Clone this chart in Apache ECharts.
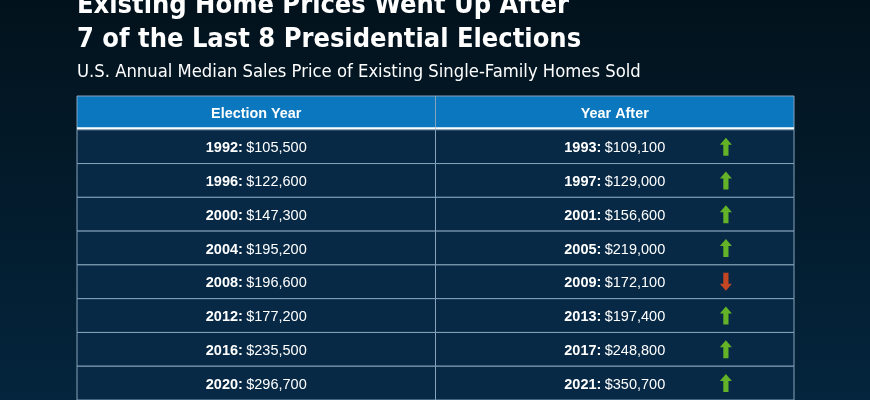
<!DOCTYPE html>
<html>
<head>
<meta charset="utf-8">
<script src="https://cdn.jsdelivr.net/npm/echarts@6/dist/echarts.min.js"></script>
<style>
    html, body { margin: 0; padding: 0; background: #031826; }
    #chart { width: 870px; height: 400px; }
</style>
</head>
<body>
<div id="chart"></div>
<script>
var headers = ['Election Year', 'Year After'];
var electionYears = ['1992', '1996', '2000', '2004', '2008', '2012', '2016', '2020'];
var electionPrices = [105500, 122600, 147300, 195200, 196600, 177200, 235500, 296700];
var afterYears = ['1993', '1997', '2001', '2005', '2009', '2013', '2017', '2021'];
var afterPrices = [109100, 129000, 156600, 219000, 172100, 197400, 248800, 350700];
var rowLabels = ['header'].concat(electionYears);

var FONT = '"Liberation Sans", Arial, sans-serif';
var NARROW = '"Liberation Sans Narrow", "DejaVu Sans Condensed", "Liberation Sans", sans-serif';

function money(v) {
    return '$' + v.toLocaleString('en-US');
}

// cells: [column, row]
var cells = [];
for (var r = 0; r < rowLabels.length; r++) {
    cells.push([0, r]);
    cells.push([1, r]);
}

function cellText(col, row) {
    if (row === 0) return headers[col];
    var i = row - 1;
    if (col === 0) return '{b|' + electionYears[i] + ':} {n|' + money(electionPrices[i]) + '}';
    return '{b|' + afterYears[i] + ':} {n|' + money(afterPrices[i]) + '}';
}

var upArrows = [], downArrows = [];
afterPrices.forEach(function (v, i) {
    if (v >= electionPrices[i]) upArrows.push([1.81, i + 1]);
    else downArrows.push([1.81, i + 1]);
});

var arrowPath = 'path://M6,0 L12,7 L8.6,7 L8.6,18 L3.4,18 L3.4,7 L0,7 Z';

var myChart = echarts.init(document.querySelector('#chart'));
var option = {
    backgroundColor: new echarts.graphic.LinearGradient(0, 0, 0, 1, [
        {offset: 0, color: '#02121c'},
        {offset: 1, color: '#04253d'}
    ]),
    animation: false,
    title: [{
        text: 'Existing Home Prices Went Up After\n7 of the Last 8 Presidential Elections',
        left: 77,
        top: -11,
        padding: 0,
        textStyle: {
            color: '#ffffff',
            fontSize: 27,
            fontWeight: 'bold',
            fontFamily: NARROW,
            lineHeight: 34
        }
    }, {
        text: 'U.S. Annual Median Sales Price of Existing Single-Family Homes Sold',
        left: 77,
        top: 62,
        padding: 0,
        textStyle: {
            color: '#ffffff',
            fontSize: 18.3,
            fontWeight: 'normal',
            fontFamily: NARROW,
            lineHeight: 20
        }
    }],
    grid: {
        left: 77,
        right: 76,
        top: 96,
        height: 306
    },
    xAxis: {
        type: 'value',
        min: 0,
        max: 2,
        show: false
    },
    yAxis: {
        type: 'category',
        data: rowLabels,
        inverse: true,
        show: false
    },
    series: [{
        type: 'custom',
        data: cells,
        silent: true,
        renderItem: function (params, api) {
            var col = api.value(0);
            var row = api.value(1);
            var p = api.coord([col, row]);
            var size = api.size([1, 1]);
            var w = size[0], h = size[1];
            var x0 = p[0], y0 = p[1] - h / 2;
            var header = row === 0;
            var children = [{
                type: 'rect',
                shape: {x: x0, y: y0, width: w, height: h},
                style: {
                    fill: header ? '#0a77bf' : '#072945',
                    stroke: '#86a3bb',
                    lineWidth: 1
                }
            }];
            if (header) {
                children.push({
                    type: 'rect',
                    shape: {x: x0, y: y0 + h - 2.5, width: w, height: 2.5},
                    style: {fill: '#ffffff'}
                });
                children.push({
                    type: 'text',
                    style: {
                        text: cellText(col, row),
                        x: x0 + w / 2,
                        y: y0 + 18.5,
                        align: 'center',
                        verticalAlign: 'middle',
                        fill: '#ffffff',
                        font: 'bold 14.4px ' + FONT
                    }
                });
            } else {
                children.push({
                    type: 'text',
                    style: {
                        text: cellText(col, row),
                        x: x0 + w / 2,
                        y: p[1] + 1.5,
                        align: 'center',
                        verticalAlign: 'middle',
                        fill: '#ffffff',
                        rich: {
                            b: {fontWeight: 'bold', fontSize: 14.5, fontFamily: FONT, fill: '#ffffff'},
                            n: {fontWeight: 'normal', fontSize: 14.5, fontFamily: FONT, fill: '#ffffff'}
                        }
                    }
                });
            }
            return {type: 'group', children: children};
        },
        z: 1
    }, {
        type: 'scatter',
        data: upArrows,
        symbol: arrowPath,
        symbolSize: [12, 18],
        itemStyle: {color: '#7ad421'},
        silent: true,
        z: 3
    }, {
        type: 'scatter',
        data: downArrows,
        symbol: arrowPath,
        symbolSize: [12, 18],
        symbolRotate: 180,
        itemStyle: {color: '#f44d1a'},
        silent: true,
        z: 3
    }]
};
myChart.setOption(option);
</script>
</body>
</html>
